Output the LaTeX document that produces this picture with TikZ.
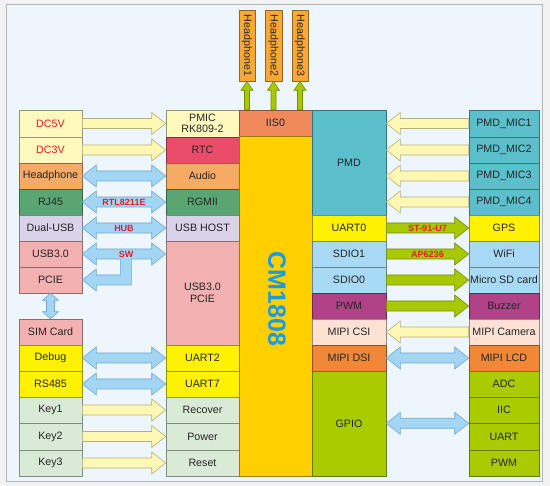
\documentclass[tikz,border=0pt]{standalone}
\usepackage{fontspec}
\setmainfont{Liberation Sans}
\usetikzlibrary{calc}
\definecolor{outerbg}{HTML}{F2F2F2}
\definecolor{panelbg}{HTML}{EEF6FD}
\definecolor{panelln}{HTML}{B4B4B4}
\definecolor{txt}{HTML}{262626}
\definecolor{redtxt}{HTML}{E8192C}
\definecolor{dcy}{HTML}{FFF9BE}
\definecolor{rtcc}{HTML}{E84C68}
\definecolor{audc}{HTML}{F5AA66}
\definecolor{ethc}{HTML}{5AA572}
\definecolor{usbc}{HTML}{D9D2E9}
\definecolor{pinkc}{HTML}{F4B1B1}
\definecolor{yelc}{HTML}{FFF200}
\definecolor{keyc}{HTML}{D9EAD6}
\definecolor{iisc}{HTML}{F08A5D}
\definecolor{cmc}{HTML}{FFD000}
\definecolor{cmblue}{HTML}{1A9BE2}
\definecolor{pmdc}{HTML}{5BBFCC}
\definecolor{sdc}{HTML}{A8DAF5}
\definecolor{pwmc}{HTML}{B04287}
\definecolor{csic}{HTML}{FDE2D3}
\definecolor{dsic}{HTML}{F08838}
\definecolor{gpioc}{HTML}{A9CB00}
\definecolor{hpc}{HTML}{F9A833}
\definecolor{ya}{HTML}{FFF8B4}
\definecolor{yad}{HTML}{B8B07A}
\definecolor{ba}{HTML}{A2D6F4}
\definecolor{bad}{HTML}{6FA8CC}
\definecolor{ga}{HTML}{A8C800}
\definecolor{gad}{HTML}{748A00}
\tikzset{
  box/.style={draw=#1!60!black, fill=#1, line width=.6pt, inner sep=0pt, text=txt,
    font=\fontsize{10.7}{11.5}\selectfont, align=center},
  yarr/.style={fill=ya, draw=yad, line width=.6pt, line join=miter},
  barr/.style={fill=ba, draw=bad, line width=.6pt, line join=miter},
  garr/.style={fill=ga, draw=gad, line width=.6pt, line join=miter},
  lbl/.style={text=redtxt, font=\bfseries\fontsize{9}{10}\selectfont, inner sep=0pt},
  cmtext/.style={text=cmblue, font=\bfseries\fontsize{25}{25}\selectfont, inner sep=0pt},
}
% box: name, x1, y1, x2, y2, colour, text
\newcommand\bx[7]{\node[box=#6, minimum width={(#4-#2)*1pt}, minimum height={(#5-#3)*1pt}] (#1) at ({(#2+#4)/2},{(#3+#5)/2}) {#7};}
% right-pointing arrow: style, tail point, tip point
\newcommand\rarr[3]{\path let \p1=(#2), \p2=(#3) in [#1]
  (\x1,\y1+5pt) -- (\x2-14pt,\y1+5pt) -- (\x2-14pt,\y1+11pt) -- (\x2,\y1) -- (\x2-14pt,\y1-11pt) -- (\x2-14pt,\y1-5pt) -- (\x1,\y1-5pt) -- cycle;}
% left-pointing arrow: style, tail point (right), tip point (left)
\newcommand\larr[3]{\path let \p1=(#2), \p2=(#3) in [#1]
  (\x1,\y1+5pt) -- (\x2+14pt,\y1+5pt) -- (\x2+14pt,\y1+11pt) -- (\x2,\y1) -- (\x2+14pt,\y1-11pt) -- (\x2+14pt,\y1-5pt) -- (\x1,\y1-5pt) -- cycle;}
% double horizontal arrow: style, left tip, right tip
\newcommand\darr[3]{\path let \p1=(#2), \p2=(#3) in [#1]
  (\x1,\y1) -- (\x1+14pt,\y1+11pt) -- (\x1+14pt,\y1+5pt) -- (\x2-14pt,\y1+5pt) -- (\x2-14pt,\y1+11pt) -- (\x2,\y1)
  -- (\x2-14pt,\y1-11pt) -- (\x2-14pt,\y1-5pt) -- (\x1+14pt,\y1-5pt) -- (\x1+14pt,\y1-11pt) -- cycle;}
% up arrow: style, base point, tip point
\newcommand\uarr[3]{\path let \p1=(#2), \p2=(#3) in [#1]
  (\x2-2.5pt,\y1) -- (\x2-2.5pt,\y2-9pt) -- (\x2-6pt,\y2-9pt) -- (\x2,\y2) -- (\x2+6pt,\y2-9pt) -- (\x2+2.5pt,\y2-9pt) -- (\x2+2.5pt,\y1) -- cycle;}
\begin{document}
\begin{tikzpicture}[x=1pt,y=-1pt]
\useasboundingbox (0,0) rectangle (550,486);
\fill[outerbg] (0,0) rectangle (550,486);
\draw[fill=panelbg, draw=panelln, line width=.8pt] (6,4) rectangle (542,481);

% left column
\bx{dc5}{19}{110}{82}{137}{dcy}{\textcolor{redtxt}{DC5V}}
\bx{dc3}{19}{137}{82}{163}{dcy}{\textcolor{redtxt}{DC3V}}
\bx{hph}{19}{163}{82}{189}{audc}{Headphone}
\bx{rj45}{19}{189}{82}{215}{ethc}{RJ45}
\bx{dusb}{19}{215}{82}{241}{usbc}{Dual-USB}
\bx{usb30}{19}{241}{82}{267}{pinkc}{USB3.0}
\bx{pcie}{19}{267}{82}{293}{pinkc}{PCIE}
\bx{sim}{19}{319}{82}{345}{pinkc}{SIM Card}
\bx{dbg}{19}{345}{82}{371}{yelc}{Debug}
\bx{rs485}{19}{371}{82}{397}{yelc}{RS485}
\bx{key1}{19}{397}{82}{423}{keyc}{Key1}
\bx{key2}{19}{423}{82}{450}{keyc}{Key2}
\bx{key3}{19}{450}{82}{476}{keyc}{Key3}

% middle column
\bx{pmic}{166}{110}{239}{137}{dcy}{PMIC\\RK809-2}
\bx{rtc}{166}{137}{239}{163}{rtcc}{RTC}
\bx{audio}{166}{163}{239}{189}{audc}{Audio}
\bx{rgmii}{166}{189}{239}{215}{ethc}{RGMII}
\bx{usbh}{166}{215}{239}{241}{usbc}{USB HOST}
\bx{usbp}{166}{241}{239}{345}{pinkc}{USB3.0\\PCIE}
\bx{uart2}{166}{345}{239}{371}{yelc}{UART2}
\bx{uart7}{166}{371}{239}{397}{yelc}{UART7}
\bx{recover}{166}{397}{239}{423}{keyc}{Recover}
\bx{power}{166}{423}{239}{450}{keyc}{Power}
\bx{reset}{166}{450}{239}{476}{keyc}{Reset}

% CM1808 column
\bx{iis}{239}{110}{312}{136}{iisc}{IIS0}
\bx{cm}{239}{136}{312}{476}{cmc}{}
\node[cmtext, rotate=-90] (cmlbl) at (277,299) {CM1808};

% right inner column
\bx{pmd}{312}{110}{386}{215}{pmdc}{PMD}
\bx{uart0}{312}{215}{386}{241}{yelc}{UART0}
\bx{sdio1}{312}{241}{386}{267}{sdc}{SDIO1}
\bx{sdio0}{312}{267}{386}{293}{sdc}{SDIO0}
\bx{pwm}{312}{293}{386}{319}{pwmc}{PWM}
\bx{csi}{312}{319}{386}{345}{csic}{MIPI CSI}
\bx{dsi}{312}{345}{386}{371}{dsic}{MIPI DSI}
\bx{gpio}{312}{371}{386}{476}{gpioc}{GPIO}

% right column
\bx{mic1}{469}{110}{539}{137}{pmdc}{PMD\_MIC1}
\bx{mic2}{469}{137}{539}{163}{pmdc}{PMD\_MIC2}
\bx{mic3}{469}{163}{539}{189}{pmdc}{PMD\_MIC3}
\bx{mic4}{469}{189}{539}{215}{pmdc}{PMD\_MIC4}
\bx{gps}{469}{215}{539}{241}{yelc}{GPS}
\bx{wifi}{469}{241}{539}{267}{sdc}{WiFi}
\bx{sd}{469}{267}{539}{293}{sdc}{Micro SD card}
\bx{buzzer}{469}{293}{539}{319}{pwmc}{Buzzer}
\bx{cam}{469}{319}{539}{345}{csic}{MIPI Camera}
\bx{lcd}{469}{345}{539}{371}{dsic}{MIPI LCD}
\bx{adc}{469}{371}{539}{397}{gpioc}{ADC}
\bx{iic}{469}{397}{539}{423}{gpioc}{IIC}
\bx{uartr}{469}{423}{539}{450}{gpioc}{UART}
\bx{pwmr}{469}{450}{539}{476}{gpioc}{PWM}

% headphone boxes
\node[box=hpc, rotate=-90, minimum width=71pt, minimum height=16pt] (hp1) at (247,45.5) {Headphone1};
\node[box=hpc, rotate=-90, minimum width=71pt, minimum height=17pt] (hp2) at (273.5,45.5) {Headphone2};
\node[box=hpc, rotate=-90, minimum width=71pt, minimum height=16pt] (hp3) at (300,45.5) {Headphone3};
\uarr{garr}{hp1.east |- iis.north}{hp1.east}
\uarr{garr}{hp2.east |- iis.north}{hp2.east}
\uarr{garr}{hp3.east |- iis.north}{hp3.east}

% left arrows
\rarr{yarr}{dc5.east}{pmic.west}
\rarr{yarr}{dc3.east}{rtc.west}
\darr{barr}{hph.east}{audio.west}
\darr{barr}{rj45.east}{rgmii.west}
\darr{barr}{dusb.east}{usbh.west}
\path let \p1=(usb30.east), \p2=(usbp.west |- usb30.east), \p3=(pcie.east) in [barr]
  (\x1,\y1) -- (\x1+14pt,\y1+11pt) -- (\x1+14pt,\y1+5pt) -- (\x2-14pt,\y1+5pt) -- (\x2-14pt,\y1+11pt) -- (\x2,\y1)
  -- (\x2-14pt,\y1-11pt) -- (\x2-14pt,\y1-5pt) -- (\x1+49pt,\y1-5pt) -- (\x1+49pt,\y3-5pt) -- (\x3+14pt,\y3-5pt)
  -- (\x3+14pt,\y3-11pt) -- (\x3,\y3) -- (\x3+14pt,\y3+11pt) -- (\x3+14pt,\y3+5pt) -- (\x1+38pt,\y3+5pt)
  -- (\x1+38pt,\y1-5pt) -- (\x1+14pt,\y1-5pt) -- (\x1+14pt,\y1-11pt) -- cycle;
\path let \p1=(pcie.south), \p2=(sim.north) in [barr]
  (\x1,\y1) -- (\x1+8pt,\y1-7pt) -- (\x1+4pt,\y1-7pt) -- (\x1+4pt,\y2+7pt) -- (\x1+8pt,\y2+7pt) -- (\x1,\y2)
  -- (\x1-8pt,\y2+7pt) -- (\x1-4pt,\y2+7pt) -- (\x1-4pt,\y1-7pt) -- (\x1-8pt,\y1-7pt) -- cycle;
\darr{barr}{dbg.east}{uart2.west}
\darr{barr}{rs485.east}{uart7.west}
\rarr{yarr}{key1.east}{recover.west}
\rarr{yarr}{key2.east}{power.west}
\rarr{yarr}{key3.east}{reset.west}

\node[lbl] (l1) at ($(rj45.east)!.5!(rgmii.west)$) {RTL8211E};
\node[lbl] (l2) at ($(dusb.east)!.5!(usbh.west)$) {HUB};
\node[lbl] (l3) at ($(usb30.east)!.5!(usbp.west |- usb30.east)+(2,0)$) {SW};

% right arrows
\larr{yarr}{mic1.west}{pmd.east |- mic1.west}
\larr{yarr}{mic2.west}{pmd.east |- mic2.west}
\larr{yarr}{mic3.west}{pmd.east |- mic3.west}
\larr{yarr}{mic4.west}{pmd.east |- mic4.west}
\rarr{garr}{uart0.east}{gps.west}
\rarr{garr}{sdio1.east}{wifi.west}
\rarr{garr}{sdio0.east}{sd.west}
\rarr{garr}{pwm.east}{buzzer.west}
\larr{yarr}{cam.west}{csi.east}
\darr{barr}{dsi.east}{lcd.west}
\darr{barr}{gpio.east |- iic.south}{iic.south -| iic.west}

\node[lbl] (l4) at ($(uart0.east)!.5!(gps.west)$) {ST-91-U7};
\node[lbl] (l5) at ($(sdio1.east)!.5!(wifi.west)$) {AP6236};
\end{tikzpicture}
\end{document}
